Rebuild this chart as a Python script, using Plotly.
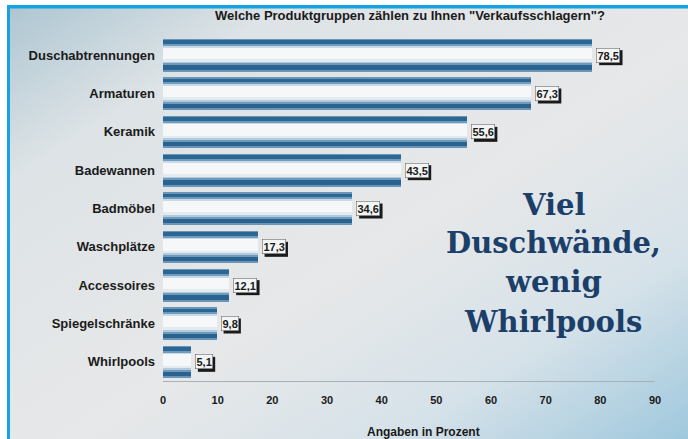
import base64
import plotly.graph_objects as go

# ---------------- data ----------------
categories = ["Duschabtrennungen", "Armaturen", "Keramik", "Badewannen", "Badmöbel",
              "Waschplätze", "Accessoires", "Spiegelschränke", "Whirlpools"]
values = [78.5, 67.3, 55.6, 43.5, 34.6, 17.3, 12.1, 9.8, 5.1]
value_labels = ["78,5", "67,3", "55,6", "43,5", "34,6", "17,3", "12,1", "9,8", "5,1"]
x_ticks = [0, 10, 20, 30, 40, 50, 60, 70, 80, 90]
title_text = "Welche Produktgruppen zählen zu Ihnen \"Verkaufsschlagern\"?"
axis_title = "Angaben in Prozent"
headline = ["Viel", "Duschwände,", "wenig", "Whirlpools"]

# plot from bottom to top
cats = categories[::-1]
vals = values[::-1]
labs = value_labels[::-1]

W, H = 688, 439
L, R, T, B = 163, 33, 36, 58
PW, PH = W - L - R, H - T - B


def px(xp):
    return (xp - L) / PW


def py(yp):
    return (H - B - yp) / PH


# ---- gradient profile of bars (from top edge s=0 to bottom s=1) ----
grad = [
    (0.00, 0.04, "#6b95b6"),
    (0.04, 0.15, "#2b6794"),
    (0.15, 0.21, "#6f9cbd"),
    (0.21, 0.27, "#c9dae6"),
    (0.27, 0.62, "#f6f7f8"),
    (0.62, 0.70, "#e3ebf1"),
    (0.70, 0.76, "#b3cbdc"),
    (0.76, 0.82, "#6e9abb"),
    (0.82, 0.96, "#2a6290"),
    (0.96, 1.00, "#6b95b6"),
]
BH = 0.833
fig = go.Figure()
for s0, s1, col in grad:
    fig.add_trace(go.Bar(
        x=vals, y=cats, orientation="h",
        offset=BH / 2 - s1 * BH, width=(s1 - s0) * BH,
        marker=dict(color=col, line=dict(width=0)),
        hoverinfo="skip", showlegend=False,
    ))

LAB_FONT = dict(family="Liberation Sans", size=11, color="#1a1a1a", weight="bold")
annotations = []
shapes = []
# value boxes with a drop shadow (shadow drawn as a pixel-sized shape anchored at the bar end)
for c, v, t in zip(cats, vals, labs):
    tw = sum(3.1 if ch == "," else 6.1 for ch in t)
    shapes.append(dict(type="rect", xref="x", yref="y", xsizemode="pixel", ysizemode="pixel",
                       xanchor=v, yanchor=c, x0=7, x1=tw + 9, y0=-10, y1=5,
                       fillcolor="#1a1a1a", line=dict(width=0), layer="above"))
    annotations.append(dict(x=v, y=c, xref="x", yref="y", text=t, showarrow=False,
                            xanchor="left", xshift=4, font=LAB_FONT,
                            bgcolor="#f3f4f4", bordercolor="#555555", borderwidth=0.5, borderpad=1))

annotations.append(dict(x=px(410), y=py(16), xref="paper", yref="paper", text=title_text,
                        showarrow=False, xanchor="center", yanchor="middle",
                        font=dict(family="Liberation Sans", size=13, color="#1a1a1a", weight="bold")))
annotations.append(dict(x=px(423), y=py(432), xref="paper", yref="paper", text=axis_title,
                        showarrow=False, xanchor="center", yanchor="middle",
                        font=dict(family="Liberation Sans", size=12, color="#1a1a1a", weight="bold")))
line_y = [205, 243, 282, 322]
for txt, yy in zip(headline, line_y):
    annotations.append(dict(x=px(553), y=py(yy), xref="paper", yref="paper", text=txt,
                            showarrow=False, xanchor="center", yanchor="middle",
                            font=dict(family="DejaVu Serif", size=29, color="#1c3f69", weight="bold")))

# background gradient (svg)
svg = f'''<svg xmlns="http://www.w3.org/2000/svg" width="{W}" height="{H}" viewBox="0 0 {W} {H}" preserveAspectRatio="none">
<defs><linearGradient id="g" x1="0" y1="0" x2="1" y2="1">
<stop offset="0" stop-color="#aec6d2"/>
<stop offset="0.2" stop-color="#dde3e6"/>
<stop offset="0.55" stop-color="#e7e8e9"/>
<stop offset="0.78" stop-color="#d6e2e9"/>
<stop offset="1" stop-color="#9fc8dd"/>
</linearGradient></defs>
<rect width="{W}" height="{H}" fill="url(#g)"/></svg>'''
src = "data:image/svg+xml;base64," + base64.b64encode(svg.encode()).decode()

images = [dict(source=src, xref="paper", yref="paper", x=px(9), y=py(7),
               sizex=(W - 9) / PW, sizey=(H - 7) / PH, sizing="stretch",
               xanchor="left", yanchor="top", layer="below")]

shapes += [
    dict(type="rect", xref="paper", yref="paper", x0=px(7), x1=px(W + 2), y0=py(8.5), y1=py(5),
         fillcolor="#15a3e4", line=dict(width=0), layer="above"),
    dict(type="rect", xref="paper", yref="paper", x0=px(7), x1=px(10), y0=py(H + 2), y1=py(5),
         fillcolor="#15a3e4", line=dict(width=0), layer="above"),
]

fig.update_layout(
    width=W, height=H, margin=dict(l=L, r=R, t=T, b=B, autoexpand=False),
    barmode="overlay", bargap=0,
    paper_bgcolor="white", plot_bgcolor="rgba(0,0,0,0)",
    showlegend=False,
    annotations=annotations, images=images, shapes=shapes,
    xaxis=dict(range=[0, 90], tickvals=x_ticks, ticktext=[str(t) for t in x_ticks],
               showgrid=False, zeroline=False, showline=True, linecolor="#a7b0b6", linewidth=1,
               ticks="", ticklabelstandoff=9,
               tickfont=dict(family="Liberation Sans", size=11, color="#1a1a1a", weight="bold")),
    yaxis=dict(categoryorder="array", categoryarray=cats, range=[-0.5, 8.5],
               showgrid=False, zeroline=False, showline=False, ticks="", ticklabelstandoff=7,
               tickfont=dict(family="Liberation Sans", size=13, color="#1a1a1a", weight="bold")),
)

fig.write_html("out.html")
